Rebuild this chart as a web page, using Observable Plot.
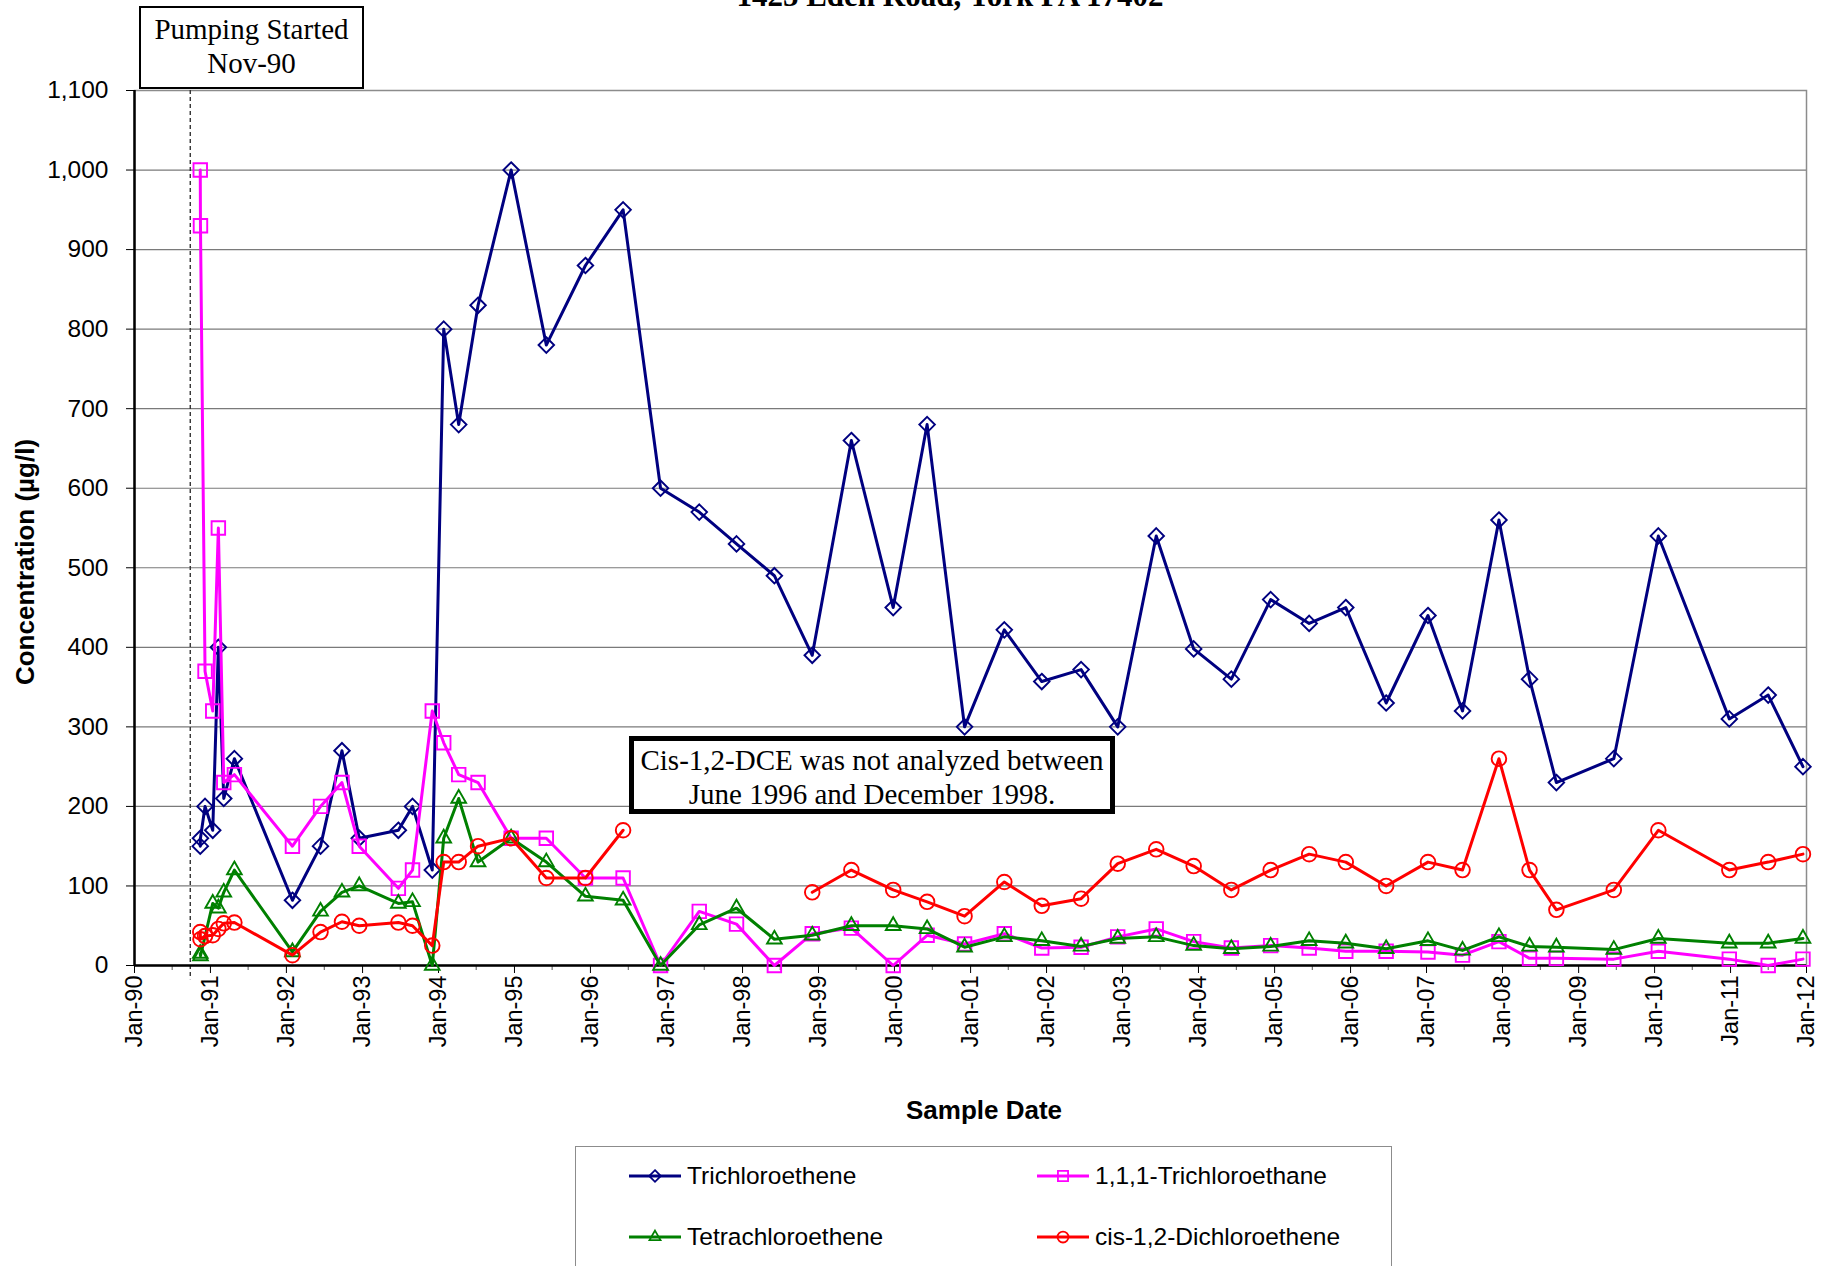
<!DOCTYPE html>
<html>
<head>
<meta charset="utf-8">
<script src="https://cdn.jsdelivr.net/npm/d3@7"></script>
<script src="https://cdn.jsdelivr.net/npm/@observablehq/plot@0.6"></script>
<style>
  html, body { margin: 0; padding: 0; background: #fff; }
  body { width: 1834px; height: 1266px; overflow: hidden; position: relative;
         font-family: "Liberation Sans", Arial, sans-serif; color: #000; }
  #chart { position: absolute; left: 0; top: 0; }
  .title { position: absolute; left: 0; width: 1900px; top: -19px; text-align: center;
           font-family: "Liberation Serif", "Times New Roman", serif; font-weight: bold;
           font-size: 31px; line-height: 30px; white-space: nowrap; }
  .note { position: absolute; box-sizing: border-box; background: #fff; text-align: center;
          font-family: "Liberation Serif", "Times New Roman", serif; font-size: 29px; color: #000; }
  #pump { left: 139px; top: 6px; width: 225px; height: 83px; border: 2px solid #000;
          line-height: 34px; padding-top: 4px; }
  #dce { left: 629px; top: 736px; width: 486px; height: 78px; border: 5px solid #000;
         line-height: 33.5px; padding-top: 3px; }
  .axtitle { position: absolute; font-weight: bold; font-size: 26px; white-space: nowrap; }
  #xtitle { left: 984px; top: 1110px; transform: translate(-50%, -50%); }
  #ytitle { left: 25px; top: 562px; transform: translate(-50%, -50%) rotate(-90deg); }
  #legend { position: absolute; left: 575px; top: 1146px; width: 817px; height: 160px;
            box-sizing: border-box; border: 1.5px solid #8c8c8c; background: #fff; }
  .item { position: absolute; display: flex; align-items: center; font-size: 24.5px; white-space: nowrap; }
  .item svg { margin-right: 5px; }
</style>
</head>
<body>
<div class="title">1425 Eden Road, York PA 17402</div>
<div id="chart"></div>
<div id="pump" class="note">Pumping Started<br>Nov-90</div>
<div id="dce" class="note">Cis-1,2-DCE was not analyzed between<br>June 1996 and December 1998.</div>
<div id="xtitle" class="axtitle">Sample Date</div>
<div id="ytitle" class="axtitle">Concentration (µg/l)</div>
<div id="legend"></div>
<script>
// ---------------- data ----------------
const sampleDates = [
  "1990-11-13","1990-11-14","1990-12-06","1991-01-12","1991-02-08","1991-03-06","1991-04-26",
  "1992-01-30","1992-06-13","1992-09-24","1992-12-16","1993-06-22","1993-08-29","1993-12-02",
  "1994-01-26","1994-04-08","1994-07-10","1994-12-16","1995-06-03","1995-12-08","1996-06-06",
  "1996-12-03","1997-06-07","1997-12-03","1998-06-03","1998-12-02","1999-06-08","1999-12-26",
  "2000-06-06","2000-12-03","2001-06-12","2001-12-09","2002-06-16","2002-12-09","2003-06-12",
  "2003-12-09","2004-06-07","2004-12-13","2005-06-16","2005-12-09","2006-06-21","2007-01-08",
  "2007-06-23","2007-12-15","2008-05-10","2008-09-16","2009-06-19","2010-01-19","2010-12-26",
  "2011-07-01","2011-12-15"
];
const trichloroethene = [
  150,160,200,170,400,210,260, 82,150,270,160,170,200,120,
  800,680,830,1000,780,880,950, 600,570,530,490,390,660,450,
  680,300,422,357,372,300,540, 398,360,460,430,450,330,440,
  320,560,360,230,260,540,310, 340,250
];
const trichloroethane = [
  1000,930,370,320,550,230,240, 150,200,230,150,97,120,320,
  280,240,230,160,160,110,110, 0,68,52,0,40,47,0,
  38,27,40,22,23,36,46, 30,22,25,22,18,18,17,
  13,30,9,9,8,18,8, 0,8
];
const tetrachloroethene = [
  15,12,null,78,72,92,120, 17,68,92,100,78,80,0,
  160,210,130,160,130,87,82, 0,51,72,33,38,50,50,
  46,23,36,31,24,34,36, 25,21,24,31,28,21,31,
  19,36,24,23,20,34,28, 28,34
];
const dichloroethene = [
  42,33,37,38,46,53,54, 13,42,55,50,54,50,25,
  130,130,150,160,110,110,170, null,null,null,null,92,120,95,
  80,62,105,75,84,128,146, 125,95,120,140,130,100,130,
  120,260,120,70,95,170,120, 130,140
];
const seriesNames = ["Trichloroethene","1,1,1-Trichloroethane","Tetrachloroethene","cis-1,2-Dichloroethene"];
const seriesColors = ["#000080","#ff00ff","#008000","#ff0000"];
const seriesSymbols = ["diamond2","square2","triangle2","circle"];
const seriesR = [7, 8.6, 7, 7.3];
const yTicks = [0,100,200,300,400,500,600,700,800,900,1000,1100];
const xStartYear = 1990, xEndYear = 2012;
const pumpingStartDate = "1990-09-26";

// ---------------- build ----------------
const parse = d3.utcParse("%Y-%m-%d");
const dates = sampleDates.map(parse);
const allValues = [trichloroethene, trichloroethane, tetrachloroethene, dichloroethene];
const gapMs = 1.5 * 365.25 * 864e5;
function toSeries(vals, name) {
  const out = []; let seg = 0, prev = null;
  dates.forEach((d, i) => {
    const v = vals[i];
    if (v == null) return;
    if (prev && d - prev > gapMs) seg++;
    out.push({date: d, value: v, seg, name});
    prev = d;
  });
  return out;
}
const series = allValues.map((v, i) => toSeries(v, seriesNames[i]));
const xDomain = [new Date(Date.UTC(xStartYear, 0, 1)), new Date(Date.UTC(xEndYear, 0, 1))];
const majorTicks = d3.utcYear.range(xDomain[0], d3.utcDay.offset(xDomain[1], 1));
const minorTicks = d3.utcMonth.every(6).range(xDomain[0], xDomain[1]).filter(d => d.getUTCMonth() === 6);
const fmtTick = d3.utcFormat("%b-%y");

const seriesMarks = series.flatMap((data, i) => [
  Plot.line(data, {x: "date", y: "value", z: "seg", stroke: seriesColors[i], strokeWidth: 3}),
  Plot.dot(data, {x: "date", y: "value", symbol: seriesSymbols[i], r: seriesR[i],
                  stroke: seriesColors[i], fill: "none", strokeWidth: 1.9})
]);

const chart = Plot.plot({
  width: 1834, height: 1140,
  marginLeft: 134, marginRight: 28, marginTop: 90, marginBottom: 175,
  style: {fontFamily: '"Liberation Sans", Arial, sans-serif', fontSize: "23px", color: "#000", background: "transparent", overflow: "visible"},
  x: {type: "utc", domain: xDomain},
  y: {domain: [0, 1100]},
  marks: [
    Plot.gridY(yTicks.slice(1, -1), {stroke: "#7a7a7a", strokeOpacity: 1, strokeWidth: 1.2}),
    Plot.frame({stroke: "#8c8c8c", strokeWidth: 1.5}),
    Plot.ruleX([parse(pumpingStartDate)], {y1: 1100, y2: -18, stroke: "#333", strokeWidth: 1.4, strokeDasharray: "4,3"}),
    Plot.axisX(minorTicks, {tickSize: 5, tickFormat: () => "", stroke: "#555", label: null}),
    Plot.axisX(majorTicks, {tickSize: 8, tickPadding: 2, tickRotate: -90, tickFormat: fmtTick, fontSize: 23.5, label: null}),
    Plot.axisY(yTicks, {tickSize: 8, tickPadding: 18, tickFormat: d3.format(","), fontSize: 24.5, label: null}),
    Plot.ruleY([0], {stroke: "#000", strokeWidth: 2.5}),
    Plot.ruleX([xDomain[0]], {stroke: "#000", strokeWidth: 2.5}),
    ...seriesMarks
  ]
});
document.getElementById("chart").appendChild(chart);

// ---------------- legend ----------------
const legend = document.getElementById("legend");
const legendPos = [[52, 29], [460, 29], [52, 90], [460, 90]];
seriesNames.forEach((name, i) => {
  const item = document.createElement("div");
  item.className = "item";
  item.style.left = legendPos[i][0] + "px";
  item.style.top = (legendPos[i][1] - 15) + "px";
  item.style.height = "30px";
  const sym = {diamond2: d3.symbolDiamond2, square2: d3.symbolSquare2, triangle2: d3.symbolTriangle2, circle: d3.symbolCircle}[seriesSymbols[i]];
  const r = seriesR[i] * 0.75;
  const path = d3.symbol(sym, Math.PI * r * r)();
  item.innerHTML = `<svg width="54" height="30" viewBox="0 0 54 30">
    <line x1="1" x2="53" y1="15" y2="15" stroke="${seriesColors[i]}" stroke-width="2.8"/>
    <path transform="translate(27,15)" d="${path}" fill="none" stroke="${seriesColors[i]}" stroke-width="1.8"/>
  </svg><span>${name}</span>`;
  legend.appendChild(item);
});
</script>
</body>
</html>
